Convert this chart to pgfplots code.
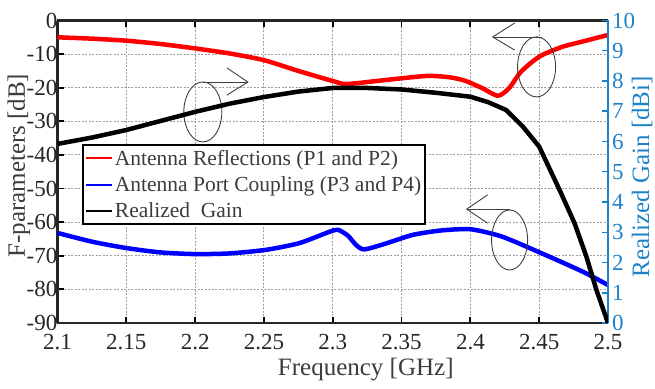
\documentclass[border=0pt]{standalone}
\usepackage{fontspec}
\setmainfont{Liberation Serif}
\usepackage{pgfplots}
\pgfplotsset{compat=1.18}
\definecolor{gaincol}{RGB}{30,130,200}
\definecolor{txtgray}{RGB}{60,60,60}
\begin{document}
\begin{tikzpicture}
\begin{axis}[
  scale only axis, width=550.5pt, height=302.5pt,
  at={(0,0)}, anchor=south west,
  xmin=2.1, xmax=2.5, ymin=-90, ymax=0,
  xtick={2.1,2.15,2.2,2.25,2.3,2.35,2.4,2.45,2.5},
  ytick={-90,-80,-70,-60,-50,-40,-30,-20,-10,0},
  axis x line*=box, axis y line*=left,
  tick align=inside, major tick length=6pt,
  every tick/.style={black, line width=1.8pt},
  axis line style={line width=2.2pt, black!85},
  grid=major,
  major grid style={gray!75, dash pattern=on 2pt off 1.5pt, line width=1.1pt},
  /pgf/number format/assume math mode=true,
  ticklabel style={font=\fontsize{23}{26}\selectfont, text=black!85},
  xticklabel style={inner sep=1pt, yshift=-10pt},
  yticklabel style={inner sep=1pt, xshift=1pt},
  xlabel={Frequency [GHz]},
  ylabel={F-parameters [dB]},
  label style={font=\fontsize{25}{30}\selectfont, text=txtgray},
  xlabel style={at={(axis description cs:0.56,-0.172)}, anchor=base},
  ylabel style={at={(axis description cs:-0.07,0.52)}, anchor=center},
]
\addplot[red, line width=4.5pt, smooth, tension=0.4, line join=round] coordinates {
(2.10,-5.0) (2.125,-5.4) (2.15,-6.0) (2.175,-7.0) (2.20,-8.3) (2.225,-9.8)
(2.25,-11.8) (2.275,-15.0) (2.30,-18.0) (2.31,-18.9) (2.334,-17.9)
(2.368,-16.5) (2.385,-16.9) (2.396,-17.9) (2.408,-20.0) (2.420,-22.4)
(2.428,-20.2) (2.436,-15.6) (2.444,-12.6) (2.452,-10.3) (2.467,-7.8)
(2.484,-6.0) (2.50,-4.3)};
\addplot[blue, line width=4.5pt, smooth, tension=0.4, line join=round] coordinates {
(2.10,-63.2) (2.125,-65.8) (2.15,-67.7) (2.175,-69.0) (2.20,-69.5)
(2.225,-69.3) (2.252,-68.2) (2.276,-66.2) (2.298,-62.8) (2.304,-62.3)
(2.311,-64.0) (2.317,-66.8) (2.323,-68.1) (2.339,-66.3) (2.358,-63.8)
(2.378,-62.5) (2.40,-62.1) (2.423,-64.3) (2.452,-69.3) (2.4815,-74.7)
(2.50,-78.7)};
% annotations
\draw[black!75, line width=0.9pt] (axis cs:2.2056,-27.2) ellipse [x radius=19pt, y radius=30pt];
\draw[black!75, line width=0.9pt] (axis cs:2.2056,-18.3) -- (axis cs:2.2383,-18.3);
\draw[black!75, line width=0.9pt] (axis cs:2.2231,-14.1) -- (axis cs:2.2383,-18.3) -- (axis cs:2.2231,-22.2);
\draw[black!75, line width=0.9pt] (axis cs:2.4481,-13.8) ellipse [x radius=19pt, y radius=30pt];
\draw[black!75, line width=0.9pt] (axis cs:2.4518,-4.9) -- (axis cs:2.4162,-4.9);
\draw[black!75, line width=0.9pt] (axis cs:2.4322,-0.74) -- (axis cs:2.4162,-4.9) -- (axis cs:2.4322,-8.8);
\draw[black!75, line width=0.9pt] (axis cs:2.4285,-65.3) ellipse [x radius=18pt, y radius=30pt];
\draw[black!75, line width=0.9pt] (axis cs:2.4285,-56.1) -- (axis cs:2.3973,-56.1);
\draw[black!75, line width=0.9pt] (axis cs:2.4125,-51.9) -- (axis cs:2.3973,-56.1) -- (axis cs:2.4125,-60.3);
\end{axis}
\begin{axis}[
  scale only axis, width=550.5pt, height=302.5pt,
  at={(0,0)}, anchor=south west,
  xmin=2.1, xmax=2.5, ymin=0, ymax=10,
  ytick={0,1,2,3,4,5,6,7,8,9,10},
  axis x line=none, axis y line*=right,
  axis line style={gaincol, line width=2pt},
  tick align=inside, major tick length=6pt,
  every tick/.style={gaincol, line width=1.5pt},
  /pgf/number format/assume math mode=true,
  yticklabel style={font=\fontsize{23}{26}\selectfont, text=gaincol, inner sep=1pt, xshift=3pt},
  ylabel={Realized Gain [dBi]},
  ylabel style={font=\fontsize{25}{30}\selectfont, text=gaincol, at={(axis description cs:1.062,0.483)}, anchor=center},
  legend style={at={(0.044,0.592)}, anchor=north west, draw=black, line width=2pt,
    fill=white, font=\fontsize{21.5}{24}\selectfont, text=txtgray,
    inner xsep=2pt, inner ysep=3pt, row sep=6pt},
  legend cell align=left,
  legend image code/.code={\draw[#1, line width=2.2pt] (0pt,0pt) -- (26pt,0pt);},
]
\addlegendimage{red}
\addlegendentry{Antenna Reflections (P1 and P2)}
\addlegendimage{blue}
\addlegendentry{Antenna Port Coupling (P3 and P4)}
\addplot[black, line width=4.5pt, line join=round] coordinates {
(2.10,5.92) (2.125,6.13) (2.15,6.38) (2.175,6.68) (2.20,6.98) (2.225,7.25)
(2.25,7.47) (2.275,7.65) (2.30,7.77) (2.325,7.77) (2.35,7.72) (2.375,7.61)
(2.40,7.48) (2.413,7.30) (2.426,7.04) (2.438,6.50) (2.45,5.83) (2.4648,4.40)
(2.4757,3.30) (2.4844,2.18) (2.4916,1.09) (2.50,0)};
\addlegendentry{Realized\ \ Gain}
\end{axis}
\pgfresetboundingbox
\path (-57.5pt,-65pt) rectangle (597.5pt,323pt);
\end{tikzpicture}
\end{document}
